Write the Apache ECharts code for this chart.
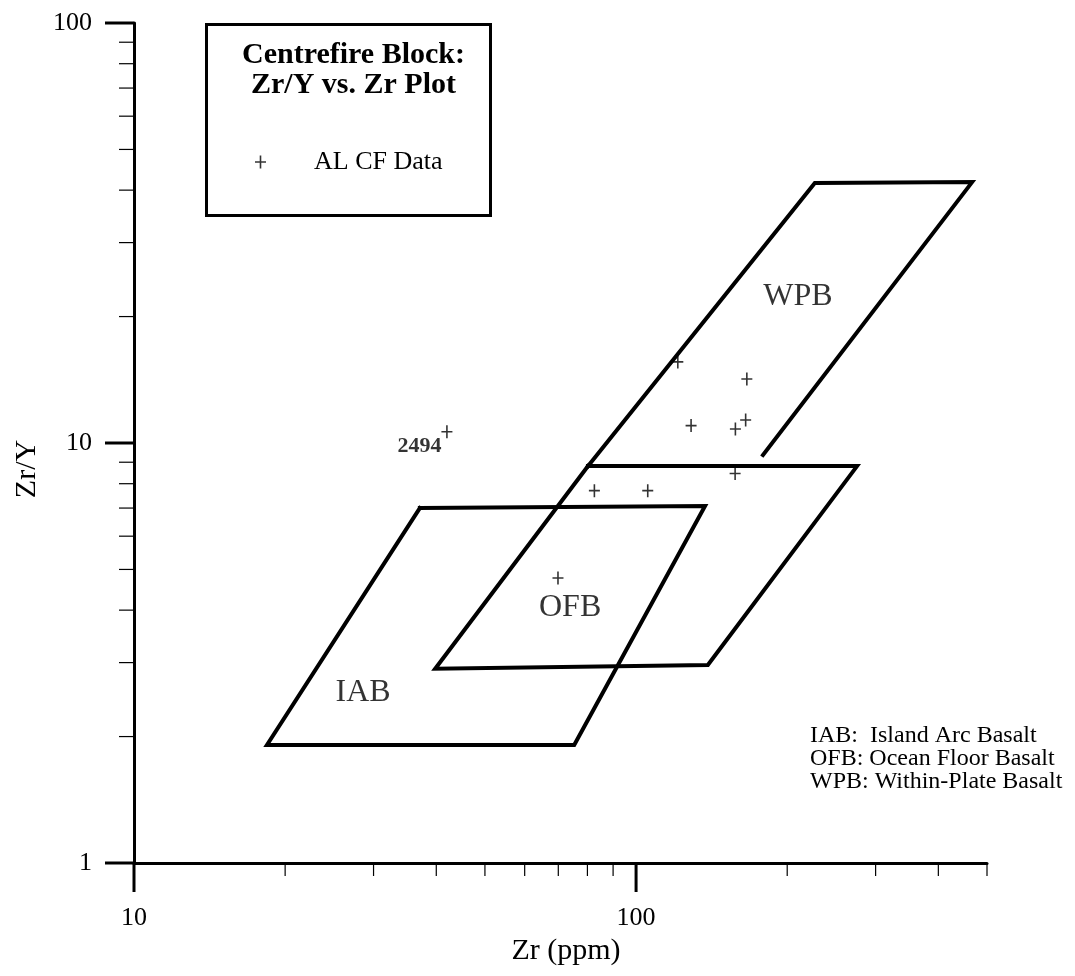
<!DOCTYPE html>
<html><head><meta charset="utf-8">
<script src="https://cdn.jsdelivr.net/npm/echarts@6/dist/echarts.min.js"></script>
<style>html,body{margin:0;padding:0;background:#fff}#c{width:1075px;height:976px}</style>
</head><body><div id="c"></div>
<script>
const FONT = '"Liberation Serif", "Times New Roman", serif';

// ---- data ----
const sampleZr  = [42.0, 121.1, 166.2, 128.7, 157.7, 165.3, 157.5, 82.6, 105.5, 69.9];
const sampleZrY = [10.64, 15.6, 14.2, 11.0, 10.8, 11.34, 8.46, 7.70, 7.70, 4.77];
const sampleIds = ['2494', '', '', '', '', '', '', '', '', ''];

const wpbZr  = [179, 467, 227, 80.2];
const wpbZrY = [9.36, 41.8, 41.6, 8.81];
const ofbZr  = [80.2, 275.5, 139, 39.8, 80.2];
const ofbZrY = [8.81, 8.81, 2.96, 2.90, 8.81];
const iabZr  = [37.1, 137.2, 75.3, 18.4, 37.1];
const iabZrY = [7.0, 7.08, 1.91, 1.91, 7.0];

const fieldNames   = ['WPB', 'OFB', 'IAB'];
const fieldLabelZr = [210, 73.9, 28.6];
const fieldLabelZrY= [22.3, 4.05, 2.55];

const xMajorTicks = [10, 100];
const xMinorTicks = [20, 30, 40, 50, 60, 70, 80, 90, 200, 300, 400, 500];
const yMajorTicks = [1, 10, 100];
const yMinorTicks = [2, 3, 4, 5, 6, 7, 8, 9, 20, 30, 40, 50, 60, 70, 80, 90];
const xMin = 10, xMax = 500, yMin = 1, yMax = 100;

const legendTitle = 'Centrefire Block:\nZr/Y vs. Zr Plot';
const keyText = 'IAB:  Island Arc Basalt\nOFB: Ocean Floor Basalt\nWPB: Within-Plate Basalt';

// ---- chart ----
const CROSS = 'path://M4.7,0H6.3V5.7H11V7.3H6.3V13H4.7V7.3H0V5.7H4.7Z';
const isMajor = v => Math.abs(Math.log10(v) - Math.round(Math.log10(v))) < 1e-9;
const fmt = v => isMajor(v) ? String(Math.round(v)) : '';
const zip = (a, b) => a.map((v, i) => [v, b[i]]);
const polyStyle = {color: '#000', width: 4, cap: 'square', join: 'miter'};

function xTicks(values, len, w) {
  return {type: 'custom', clip: false, silent: true, z: 5,
    data: values.map(v => [v, yMin]),
    renderItem: (p, api) => {
      const c = api.coord([api.value(0), yMin]);
      return {type: 'line', shape: {x1: c[0], y1: c[1], x2: c[0], y2: c[1] + len},
        style: {stroke: '#000', lineWidth: w}};
    }};
}
function yTicks(values, len, w) {
  return {type: 'custom', clip: false, silent: true, z: 5,
    data: values.map(v => [xMin, v]),
    renderItem: (p, api) => {
      const c = api.coord([xMin, api.value(1)]);
      return {type: 'line', shape: {x1: c[0] - len, y1: c[1], x2: c[0], y2: c[1]},
        style: {stroke: '#000', lineWidth: w}};
    }};
}

const chart = echarts.init(document.getElementById('c'), null, {renderer: 'canvas'});
chart.setOption({
  animation: false,
  backgroundColor: '#fff',
  grid: {left: 134, top: 23, right: 88, bottom: 113, containLabel: false, outerBoundsMode: 'none'},
  title: [
    {text: legendTitle, left: 348.5, top: 35, textAlign: 'center', padding: 5,
     textStyle: {fontFamily: FONT, fontWeight: 'bold', fontSize: 30, lineHeight: 30, color: '#000'}},
    {text: keyText, left: 805, top: 719, padding: 5,
     textStyle: {fontFamily: FONT, fontWeight: 'normal', fontSize: 24, lineHeight: 23, color: '#000'}}
  ],
  legend: {left: 255, top: 147, data: ['AL CF Data'], icon: CROSS, itemWidth: 11, itemHeight: 13,
    selectedMode: false, padding: 0,
    textStyle: {fontFamily: FONT, fontSize: 26, lineHeight: 30, color: '#000', padding: [0, 0, 0, 43]}},
  graphic: [
    {type: 'rect', shape: {x: 206.5, y: 24.5, width: 284, height: 191},
     style: {fill: 'none', stroke: '#000', lineWidth: 3}, silent: true}
  ],
  xAxis: {type: 'log', logBase: 10, min: xMin, max: xMax,
    name: 'Zr (ppm)', nameLocation: 'middle', nameGap: 72,
    nameTextStyle: {fontFamily: FONT, fontSize: 30, color: '#000', padding: [0, 0, 0, 11]},
    axisLine: {onZero: false, lineStyle: {color: '#000', width: 3}},
    axisTick: {show: false}, minorTick: {show: false}, splitLine: {show: false},
    axisLabel: {margin: 42, fontFamily: FONT, fontSize: 26, color: '#000', formatter: fmt}},
  yAxis: {type: 'log', logBase: 10, min: yMin, max: yMax,
    name: 'Zr/Y', nameLocation: 'middle', nameGap: 91,
    nameTextStyle: {fontFamily: FONT, fontSize: 30, color: '#000', padding: [0, 52, 0, 0]},
    axisLine: {onZero: false, lineStyle: {color: '#000', width: 3}},
    axisTick: {show: false}, minorTick: {show: false}, splitLine: {show: false},
    axisLabel: {margin: 42, fontFamily: FONT, fontSize: 26, color: '#000', formatter: fmt}},
  series: [
    {type: 'line', data: zip(wpbZr, wpbZrY), symbol: 'none', lineStyle: polyStyle, silent: true},
    {type: 'line', data: zip(ofbZr, ofbZrY), symbol: 'none', lineStyle: polyStyle, silent: true},
    {type: 'line', data: zip(iabZr, iabZrY), symbol: 'none', lineStyle: polyStyle, silent: true},
    {type: 'scatter', data: zip(fieldLabelZr, fieldLabelZrY), symbolSize: 1,
     itemStyle: {color: 'rgba(0,0,0,0)'}, silent: true,
     label: {show: true, position: 'inside', formatter: p => fieldNames[p.dataIndex],
       fontFamily: FONT, fontSize: 32, color: '#000'}},
    {name: 'AL CF Data', type: 'scatter', data: zip(sampleZr, sampleZrY), symbol: CROSS,
     symbolSize: [11, 13], itemStyle: {color: '#000'}, z: 6,
     label: {show: true, position: 'left', distance: 0, offset: [0, 15],
       formatter: p => sampleIds[p.dataIndex], fontFamily: FONT, fontWeight: 'bold',
       fontSize: 22, color: '#000'}},
    xTicks(xMajorTicks, 29, 3), xTicks(xMinorTicks, 13, 1.2),
    yTicks(yMajorTicks, 29, 3), yTicks(yMinorTicks, 15, 1.2)
  ]
});
</script></body></html>
